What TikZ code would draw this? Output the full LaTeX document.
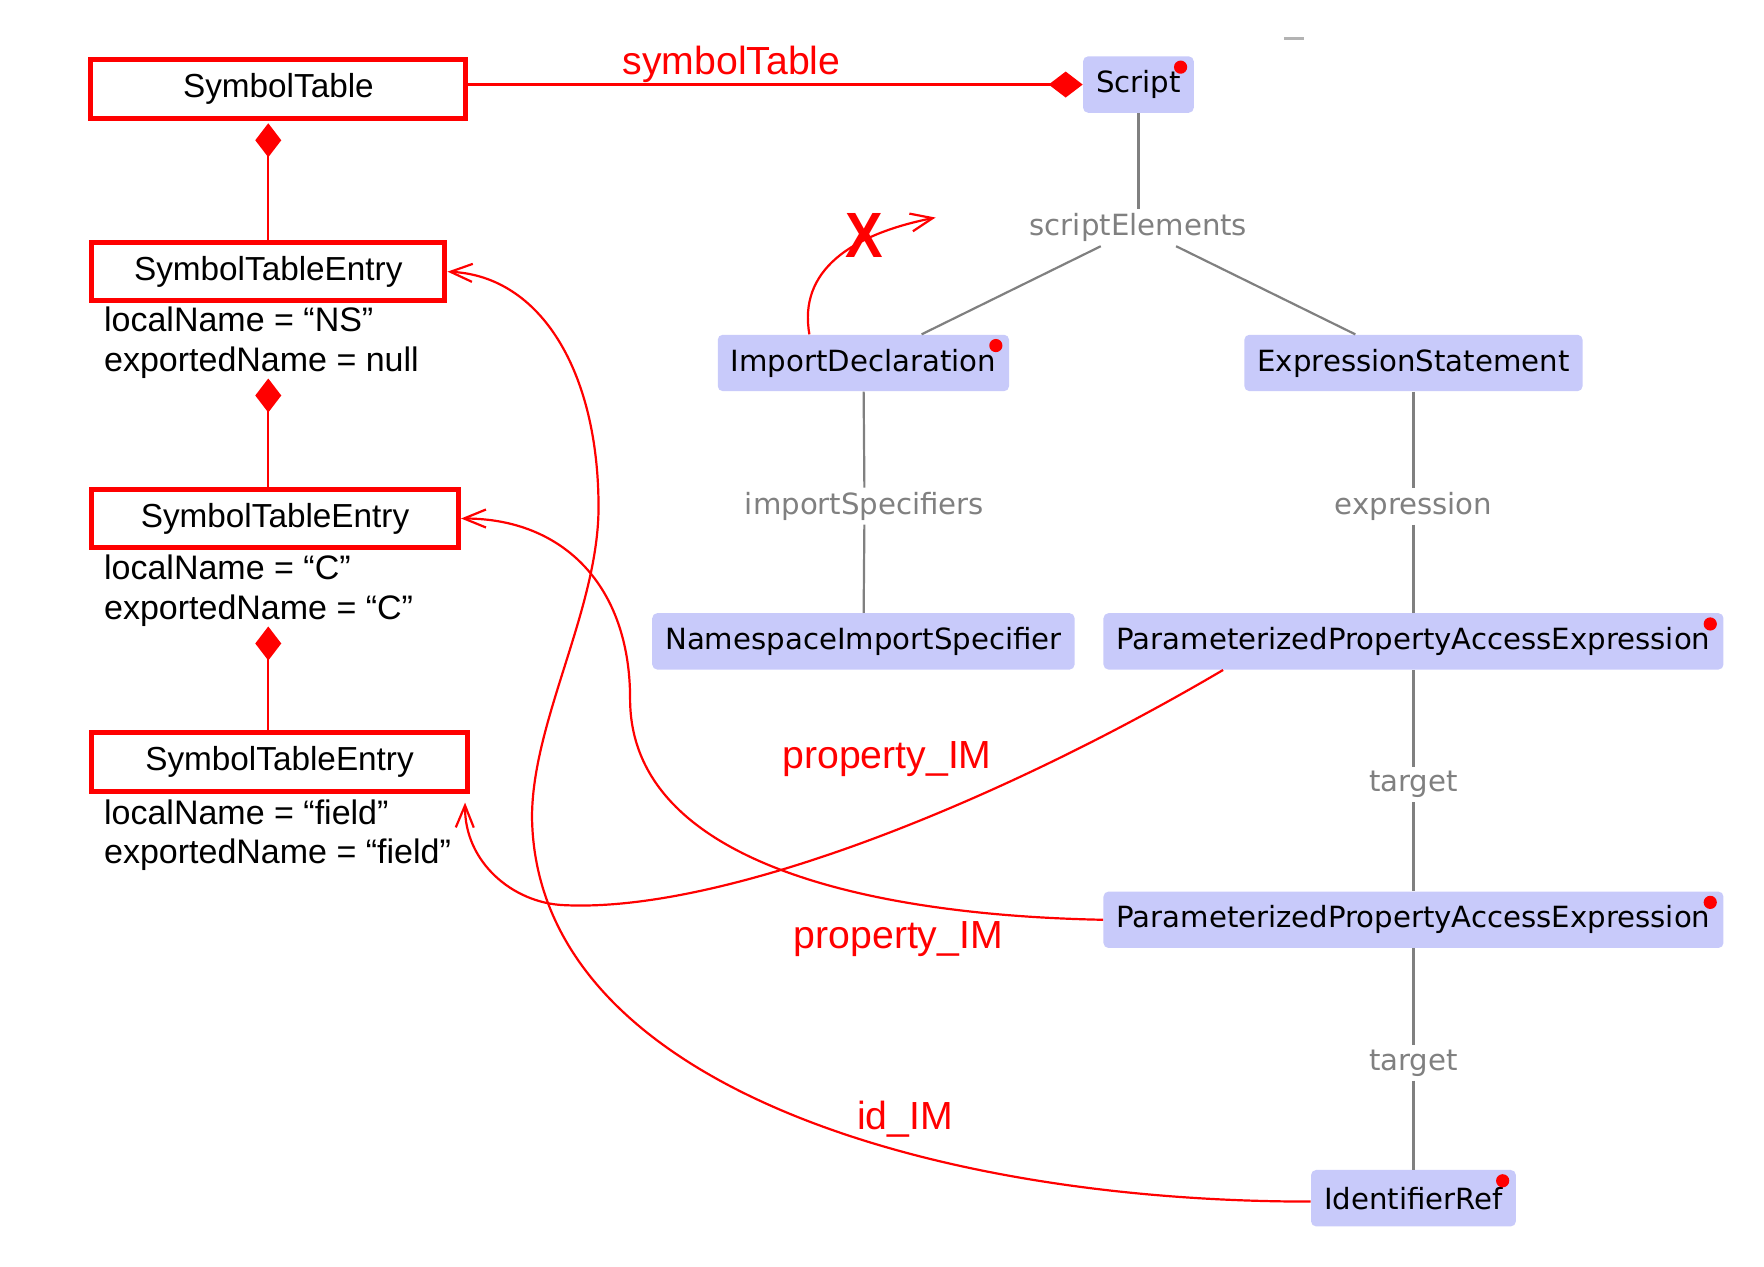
\documentclass[tikz,border=0pt]{standalone}
\usepackage{fontspec}
\setmainfont{Liberation Sans}
\newfontfamily\astfont{DejaVu Sans}
\usetikzlibrary{arrows.meta,calc}

\definecolor{astfill}{RGB}{200,202,250}
\definecolor{featline}{RGB}{128,128,128}
\definecolor{feattext}{RGB}{128,128,128}

\tikzset{
  umlbox/.style={draw=red, line width=2.5pt, minimum height=29.1pt, inner sep=0pt,
    font=\fontsize{16.65}{19.7}\selectfont},
  attrs/.style={anchor=north west, align=left, inner sep=0pt,
    font=\fontsize{17}{19.7}\selectfont},
  astnode/.style={fill=astfill, rounded corners=2.5pt, minimum height=28.2pt, inner xsep=6.5pt,
    font=\astfont\fontsize{14.6}{16}\selectfont},
  featlbl/.style={text=feattext, inner sep=2pt, font=\astfont\fontsize{14.6}{16}\selectfont},
  featedge/.style={draw=featline, line width=1.1pt},
  comp/.style={draw=red, line width=1.1pt, {Diamond[length=17pt,width=13pt]}-},
  imref/.style={draw=red, line width=1.1pt, -{Straight Barb[length=11pt,width=9pt]}},
  imlbl/.style={text=red, inner sep=0pt, font=\fontsize{19.6}{22}\selectfont}
}
% red marker in the upper right corner of an AST node
\newcommand\errdot[1]{\fill[red] ([xshift=-6.8pt,yshift=-5.6pt]#1.north east) circle (3.3pt);}

\begin{document}
\begin{tikzpicture}[x=0.5635pt, y=-0.5635pt]
\useasboundingbox (0,0) rectangle (1565,1124);

% symbol table side
\node[umlbox, minimum width=187.4pt] (symtab) at (247,79) {SymbolTable};
\node[umlbox, minimum width=176.7pt] (ste1) at (238,241) {SymbolTableEntry};
\node[attrs] (ste1attr) at (92,272) {localName = “NS”\\exportedName = null};
\node[umlbox, minimum width=183.5pt] (ste2) at (244,460) {SymbolTableEntry};
\node[attrs] (ste2attr) at (92,492) {localName = “C”\\exportedName = “C”};
\node[umlbox, minimum width=188pt] (ste3) at (248,676) {SymbolTableEntry};
\node[attrs] (ste3attr) at (92,709) {localName = “field”\\exportedName = “field”};

\draw[comp] ([yshift=-1.3pt]symtab.south -| ste1.north) -- (ste1.north);
\draw[comp] (ste1.south |- ste1attr.south) -- (ste1.south |- ste2.north);
\draw[comp] (ste1.south |- ste2attr.south) -- (ste1.south |- ste3.north);

% AST side
\node[astnode] (script) at (1010,75) {Script};
\node[featlbl] (selbl) at (1010,202) {scriptElements};
\node[astnode] (impdecl) at (766,322) {ImportDeclaration};
\node[astnode] (exprstmt) at (1254,322) {ExpressionStatement};
\node[featlbl] (islbl) at (767,449) {importSpecifiers};
\node[featlbl] (exlbl) at (1254,449) {expression};
\node[astnode] (nsspec) at (766,569) {NamespaceImportSpecifier};
\node[astnode] (ppae1) at (1254,569) {ParameterizedPropertyAccessExpression};
\node[featlbl] (tglbl1) at (1254,696) {target};
\node[astnode] (ppae2) at (1254,816) {ParameterizedPropertyAccessExpression};
\node[featlbl] (tglbl2) at (1254,943) {target};
\node[astnode] (idref) at (1254,1063) {IdentifierRef};

\errdot{script}
\errdot{impdecl}
\errdot{ppae1}
\errdot{ppae2}
\errdot{idref}

\draw[featedge] (script) -- (selbl);
\draw[featedge] (selbl) -- (impdecl);
\draw[featedge] (selbl) -- (exprstmt);
\draw[featedge] (impdecl) -- (islbl);
\draw[featedge] (islbl) -- (nsspec);
\draw[featedge] (exprstmt) -- (exlbl);
\draw[featedge] (exlbl) -- (ppae1);
\draw[featedge] (ppae1) -- (tglbl1);
\draw[featedge] (tglbl1) -- (ppae2);
\draw[featedge] (ppae2) -- (tglbl2);
\draw[featedge] (tglbl2) -- (idref);
\draw[featline!60, line width=1.2pt] (1139,34) -- (1157,34);

% links between the two sides
\draw[comp] (script.west) -- (symtab.east |- script.west);
\node[imlbl] (stlbl) at (649,57) {symbolTable};

\coordinate (impsrc) at ([xshift=-27pt]impdecl.north);
\coordinate (impout) at (830,193);
\draw[imref] (impsrc) .. controls (708,240) and (755,208) .. (impout);
\node[text=red, inner sep=0pt, font=\bfseries\fontsize{32}{32}\selectfont] (nox) at (767,209) {\scalebox{0.88}[1]{X}};

\coordinate (idsrc) at ([yshift=-1.7pt]idref.west);
\draw[imref] (idsrc) .. controls (820,1066) and (475,960) .. (472,725)
  .. controls (472,640) and (531,540) .. (531,450)
  .. controls (531,330) and (480,245) .. (ste1.east);
\node[imlbl] (idlbl) at (803,993) {id\_IM};

\draw[imref] (ppae2.west) .. controls (770,812) and (559,765) .. (559,620)
  .. controls (559,520) and (500,460) .. (ste2.east);
\node[imlbl] (plbl2) at (797,833) {property\_IM};

\coordinate (ppsrc) at ([xshift=60pt]ppae1.south west);
\coordinate (ppdst) at ([xshift=-2.5pt,yshift=-4.5pt]ste3.south east);
\draw[imref] (ppsrc) .. controls (880,715) and (640,810) .. (500,803)
  .. controls (455,801) and (412,765) .. (ppdst);
\node[imlbl] (plbl1) at (787,673) {property\_IM};
\end{tikzpicture}
\end{document}
